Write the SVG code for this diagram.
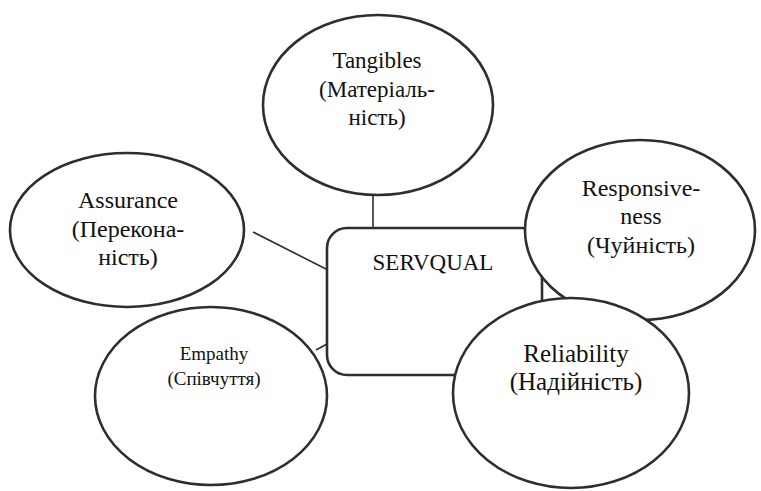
<svg xmlns="http://www.w3.org/2000/svg" width="761" height="491" viewBox="0 0 761 491">
<style>
.n{fill:#fff;stroke:#2e2e2e;stroke-width:2.6}
.c{stroke:#2e2e2e;stroke-width:1.6;fill:none}
text{font-family:"Liberation Serif","Times New Roman",serif;fill:#111;text-anchor:middle}
.t{font-size:23px}
.s{font-size:19px}
</style>
<rect width="761" height="491" fill="#fff"/>
<g id="connectors">
<line class="c" x1="373" y1="194" x2="373" y2="228"/>
<line class="c" x1="253" y1="232" x2="326" y2="269"/>
<line class="c" x1="316" y1="350" x2="327" y2="344"/>
</g>
<g id="servqual">
<rect class="n" x="327" y="228" width="215" height="147" rx="20"/>
<text class="t" x="433" y="270" style="font-size:23px">SERVQUAL</text>
</g>
<g id="tangibles">
<ellipse class="n" cx="378" cy="105" rx="115" ry="90"/>
<text class="t" x="377" y="68">Tangibles</text>
<text class="t" x="377" y="97">(Матеріаль-</text>
<text class="t" x="377" y="125">ність)</text>
</g>
<g id="assurance">
<ellipse class="n" cx="127" cy="230" rx="117" ry="77"/>
<text class="t" x="128" y="208" style="font-size:24px">Assurance</text>
<text class="t" x="128" y="237" style="font-size:24px">(Перекона-</text>
<text class="t" x="128" y="265" style="font-size:24px">ність)</text>
</g>
<g id="empathy">
<ellipse class="n" cx="211" cy="396" rx="116" ry="89"/>
<text class="s" x="214" y="360">Empathy</text>
<text class="s" x="214" y="385">(Співчуття)</text>
</g>
<g id="responsiveness">
<ellipse class="n" cx="640" cy="230" rx="115" ry="90"/>
<text class="t" x="641" y="196" style="font-size:24px">Responsive-</text>
<text class="t" x="641" y="224" style="font-size:24px">ness</text>
<text class="t" x="641" y="253" style="font-size:24px">(Чуйність)</text>
</g>
<g id="reliability">
<ellipse class="n" cx="571" cy="393" rx="118" ry="95"/>
<text class="t" x="576" y="362" style="font-size:25px">Reliability</text>
<text class="t" x="576" y="390" style="font-size:25px">(Надійність)</text>
</g>
</svg>
